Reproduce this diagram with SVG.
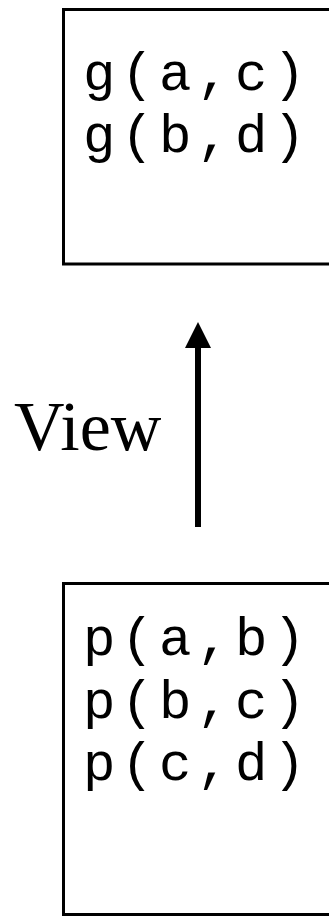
<svg xmlns="http://www.w3.org/2000/svg" width="329" height="917" viewBox="0 0 329 917">
<style>
.box{fill:none;stroke:#000;stroke-width:3}
.mono{font-family:"Liberation Mono","Courier New",monospace;font-size:54px;letter-spacing:5.6px;fill:#000}
.serif{font-family:"Liberation Serif","Times New Roman",serif;font-size:70px;fill:#000}
</style>
<rect width="329" height="917" fill="#fff"/>
<g id="view-box">
<rect class="box" x="63.5" y="9.5" width="300" height="254.5"/>
<text class="mono" x="83" y="90">g(a,c)</text>
<text class="mono" x="83" y="152">g(b,d)</text>
</g>
<g id="base-box">
<rect class="box" x="63.5" y="583.5" width="300" height="331"/>
<text class="mono" x="83" y="655">p(a,b)</text>
<text class="mono" x="83" y="718">p(b,c)</text>
<text class="mono" x="83" y="780">p(c,d)</text>
</g>
<g id="connectors">
<line x1="198" y1="527" x2="198" y2="346" stroke="#000" stroke-width="6"/>
<polygon points="198,322 185,348 211,348" fill="#000"/>
<text class="serif" x="14" y="450">View</text>
</g>
</svg>
